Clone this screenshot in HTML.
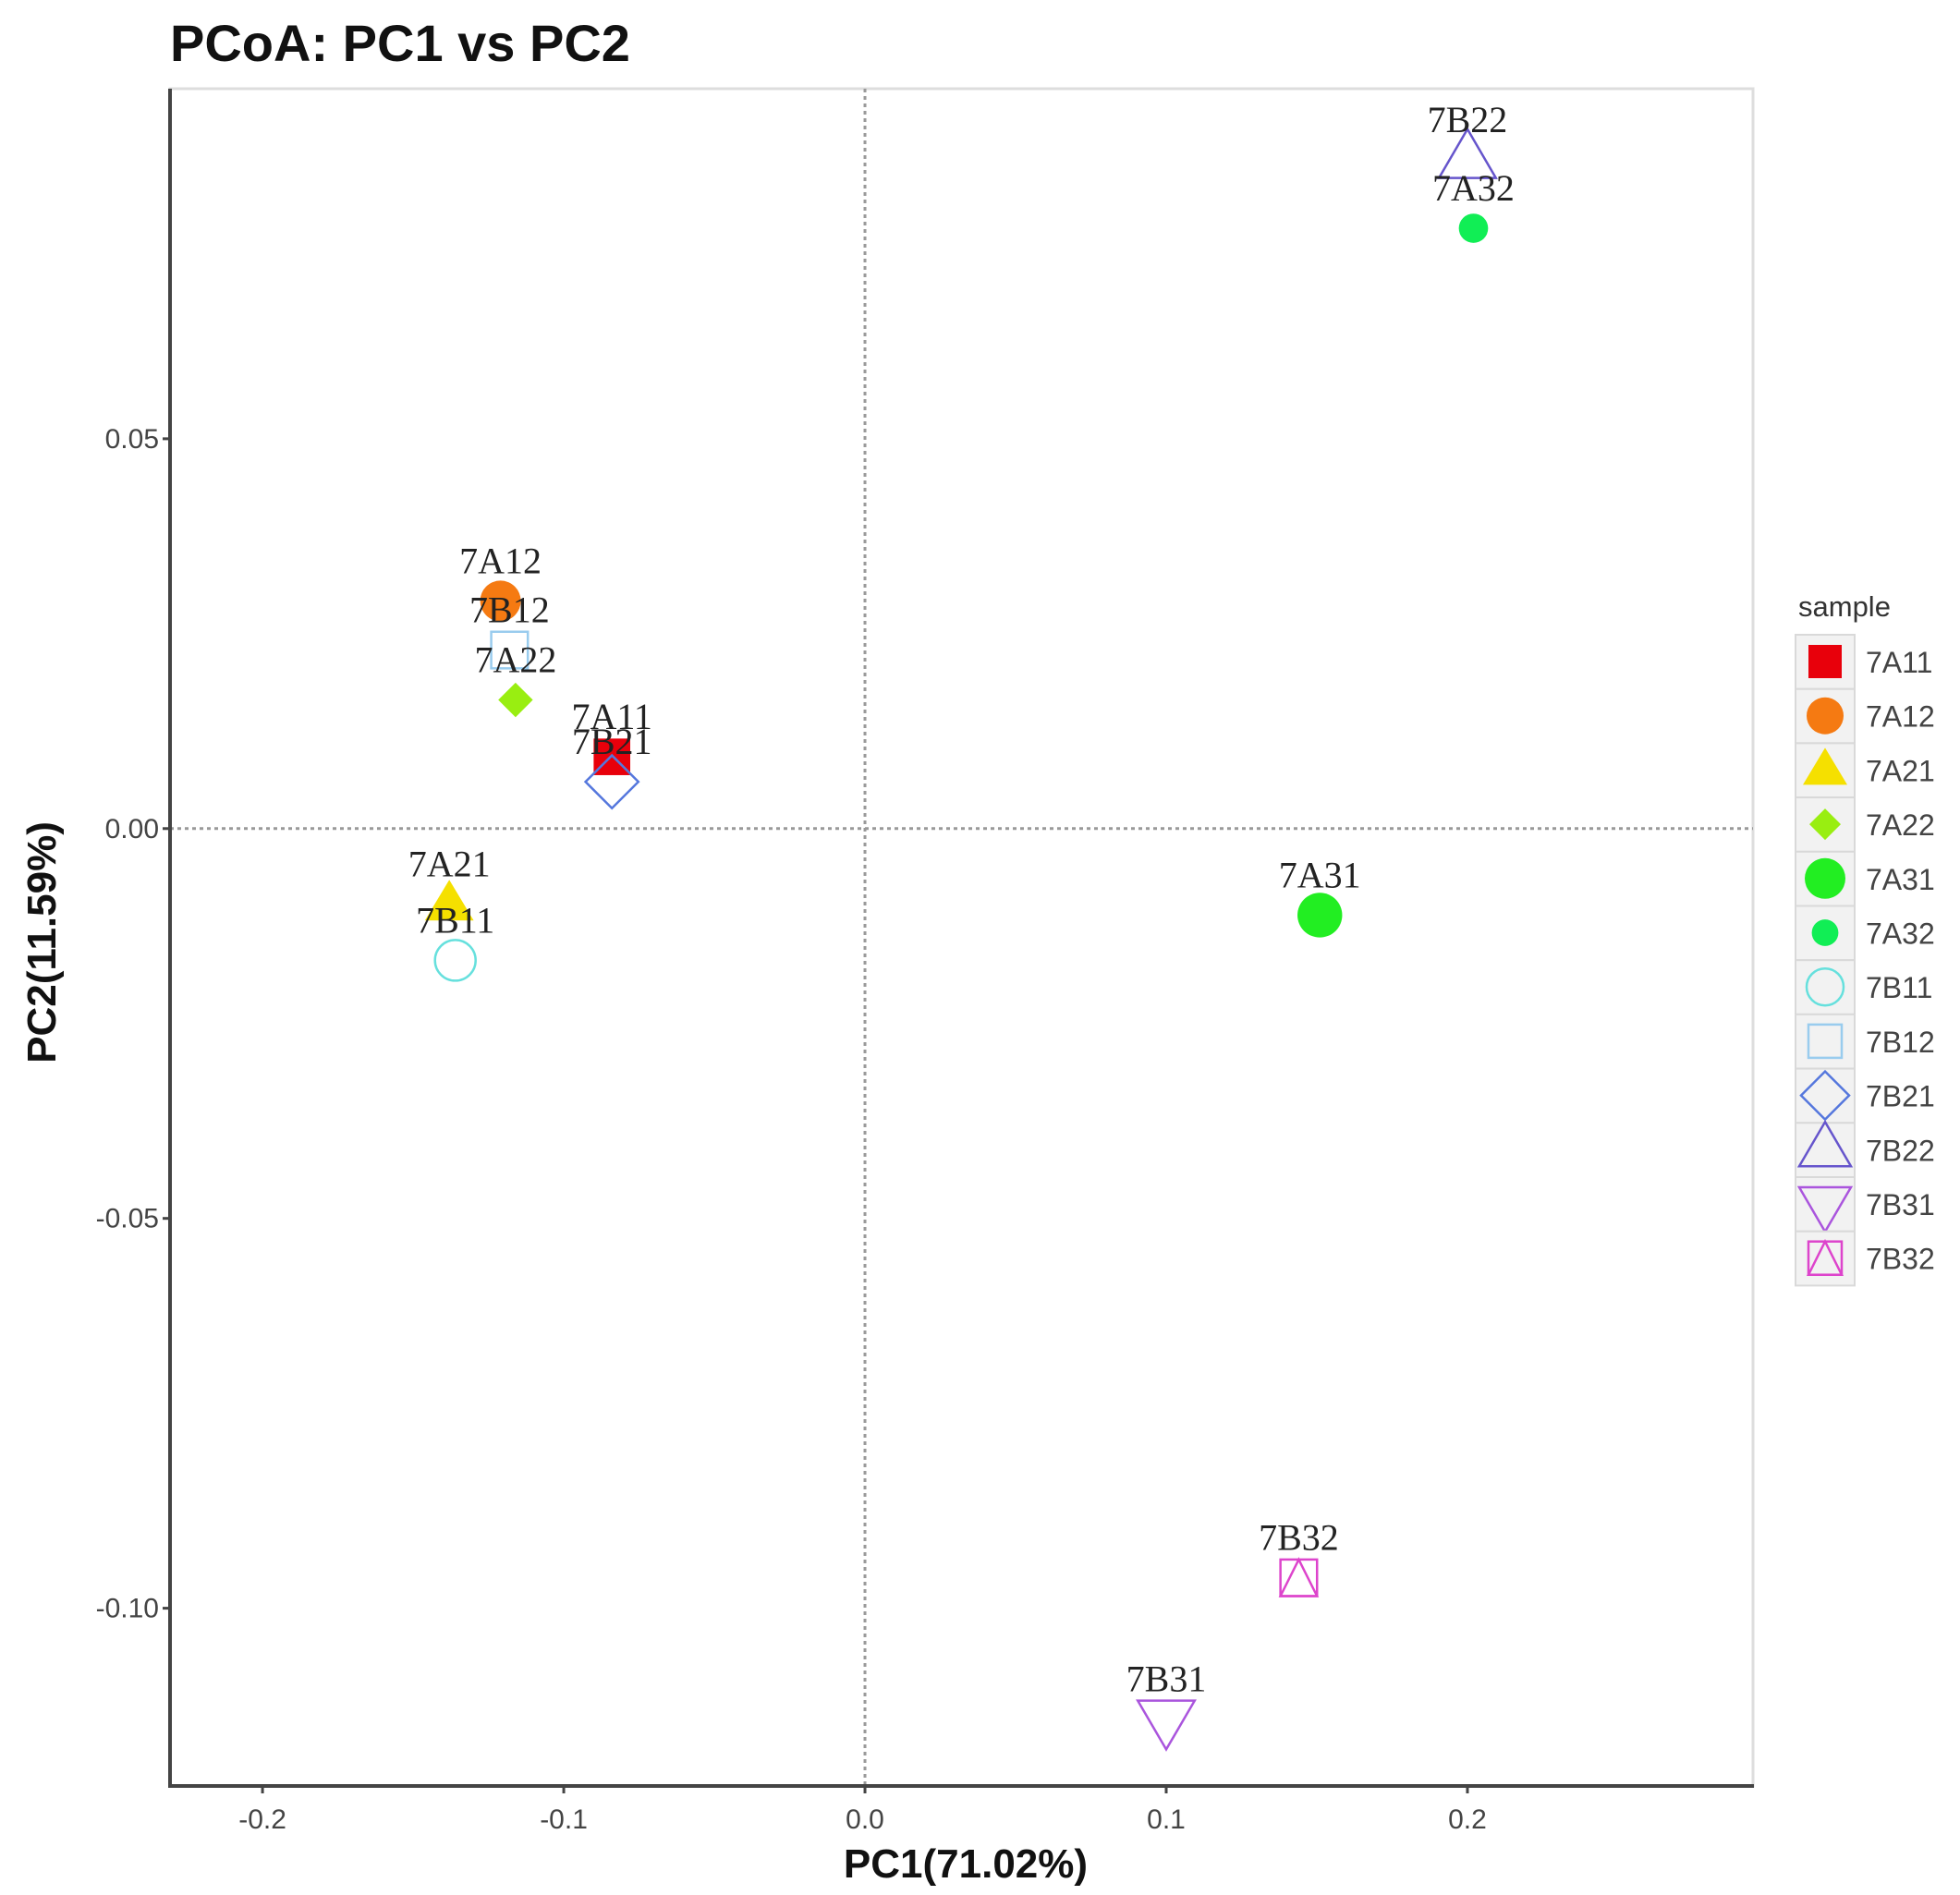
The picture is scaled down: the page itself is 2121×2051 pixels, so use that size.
<!DOCTYPE html>
<html><head><meta charset="utf-8"><style>
html,body{margin:0;padding:0;background:#fff;}
svg{display:block;}
</style></head><body>
<svg id="chart" width="2121" height="2051" xmlns="http://www.w3.org/2000/svg">
<text x="184" y="66" font-family="Liberation Sans, sans-serif" font-weight="bold" font-size="56" fill="#111">PCoA: PC1 vs PC2</text>
<rect x="184" y="96" width="1713" height="1837" fill="#fff" stroke="#ddd" stroke-width="3"/>
<g id="grid"></g>
<g id="marks"></g>
<line x1="184" y1="96" x2="184" y2="1934" stroke="#444" stroke-width="4"/>
<line x1="182" y1="1933" x2="1898" y2="1933" stroke="#444" stroke-width="4"/>
<g id="axes"></g>
<text x="1045" y="2032" text-anchor="middle" font-family="Liberation Sans, sans-serif" font-weight="bold" font-size="44" fill="#111">PC1(71.02%)</text>
<text transform="translate(60,1020) rotate(-90)" text-anchor="middle" font-family="Liberation Sans, sans-serif" font-weight="bold" font-size="44" fill="#111">PC2(11.59%)</text>
<g id="legend"></g>
</svg>
<script>
const samples = ['7A11','7A12','7A21','7A22','7A31','7A32','7B11','7B12','7B21','7B22','7B31','7B32'];
const pc1 = [-0.084,-0.121,-0.138,-0.116,0.151,0.202,-0.136,-0.118,-0.084,0.200,0.100,0.144];
const pc2 = [0.0092,0.0292,-0.0097,0.0165,-0.0111,0.0770,-0.0169,0.0229,0.0060,0.0858,-0.1142,-0.0961];
const xTicks = [-0.2,-0.1,0.0,0.1,0.2];
const xTickLabels = ['-0.2','-0.1','0.0','0.1','0.2'];
const yTicks = [0.05,0.0,-0.05,-0.10];
const yTickLabels = ['0.05','0.00','-0.05','-0.10'];

const colors = ['#e8000b','#f57a12','#f5e000','#99ee11','#22ee22','#11ee55','#66e0dd','#99ccee','#5577dd','#6655cc','#aa55dd','#dd44cc'];
const shapes = ['sq','circ','tri','dia','bigcirc','smallcirc','ocirc','osq','odia','otri','oinvtri','osqtri'];

const NS='http://www.w3.org/2000/svg';
const X0=184,X1=1897,Y0=96,Y1=1933;
const xMin=-0.2307,xMax=0.2948,yMin=-0.1228,yMax=0.0949;
function sx(v){return X0+(v-xMin)/(xMax-xMin)*(X1-X0);}
function sy(v){return Y1-(v-yMin)/(yMax-yMin)*(Y1-Y0);}
function el(tag,attrs,parent){const e=document.createElementNS(NS,tag);for(const k in attrs)e.setAttribute(k,attrs[k]);parent.appendChild(e);return e;}

const grid=document.getElementById('grid');
let g1=el('line',{x1:sx(0),y1:Y0,x2:sx(0),y2:Y1,stroke:'#999','stroke-width':3,'stroke-dasharray':'4 4'},grid);


let g2=el('line',{x1:X0,y1:sy(0),x2:X1,y2:sy(0),stroke:'#999','stroke-width':3,'stroke-dasharray':'4 4'},grid);



const axes=document.getElementById('axes');
xTicks.forEach((t,i)=>{
  const x=sx(t);
  const tk=el('line',{x1:x,y1:Y1,x2:x,y2:Y1+8,stroke:'#444','stroke-width':3},axes);
  
  
  const tx=el('text',{x:x,y:Y1+46,'text-anchor':'middle','font-family':'Liberation Sans, sans-serif','font-size':30,fill:'#444'},axes);
  tx.textContent=xTickLabels[i];
  
  
});
yTicks.forEach((t,i)=>{
  const y=sy(t);
  const tk=el('line',{x1:X0-8,y1:y,x2:X0,y2:y,stroke:'#444','stroke-width':3},axes);
  
  
  const tx=el('text',{x:X0-12,y:y+10,'text-anchor':'end','font-family':'Liberation Sans, sans-serif','font-size':30,fill:'#444'},axes);
  tx.textContent=yTickLabels[i];
  
  
});

function drawShape(shape,c,x,y,s,parent){
  const g=el('g',{},parent);
  const sw=2.5;
  if(shape==='sq') el('rect',{x:x-s*0.9,y:y-s*0.9,width:s*1.8,height:s*1.8,fill:c},g);
  else if(shape==='circ') el('circle',{cx:x,cy:y,r:s,fill:c},g);
  else if(shape==='bigcirc') el('circle',{cx:x,cy:y,r:s*1.1,fill:c},g);
  else if(shape==='smallcirc') el('circle',{cx:x,cy:y,r:s*0.72,fill:c},g);
  else if(shape==='tri') el('polygon',{points:`${x},${y-s*1.2} ${x+s*1.2},${y+s*0.8} ${x-s*1.2},${y+s*0.8}`,fill:c},g);
  else if(shape==='dia') el('polygon',{points:`${x},${y-s*0.85} ${x+s*0.85},${y} ${x},${y+s*0.85} ${x-s*0.85},${y}`,fill:c},g);
  else if(shape==='ocirc') el('circle',{cx:x,cy:y,r:s,fill:'none',stroke:c,'stroke-width':sw},g);
  else if(shape==='osq') el('rect',{x:x-s*0.9,y:y-s*0.9,width:s*1.8,height:s*1.8,fill:'none',stroke:c,'stroke-width':sw},g);
  else if(shape==='odia') el('polygon',{points:`${x},${y-s*1.3} ${x+s*1.3},${y} ${x},${y+s*1.3} ${x-s*1.3},${y}`,fill:'none',stroke:c,'stroke-width':sw},g);
  else if(shape==='otri') el('polygon',{points:`${x},${y-s*1.5} ${x+s*1.4},${y+s*0.9} ${x-s*1.4},${y+s*0.9}`,fill:'none',stroke:c,'stroke-width':sw},g);
  else if(shape==='oinvtri') el('polygon',{points:`${x},${y+s*1.5} ${x+s*1.4},${y-s*0.9} ${x-s*1.4},${y-s*0.9}`,fill:'none',stroke:c,'stroke-width':sw},g);
  else if(shape==='osqtri'){el('rect',{x:x-s*0.9,y:y-s*0.9,width:s*1.8,height:s*1.8,fill:'none',stroke:c,'stroke-width':sw},g);
    el('polygon',{points:`${x},${y-s*0.9} ${x+s*0.9},${y+s*0.9} ${x-s*0.9},${y+s*0.9}`,fill:'none',stroke:c,'stroke-width':sw},g);}
  return g;
}

const marks=document.getElementById('marks');
samples.forEach((n,i)=>{
  const x=sx(pc1[i]),y=sy(pc2[i]);
  const g=drawShape(shapes[i],colors[i],x,y,22,marks);
  
  
});
samples.forEach((n,i)=>{
  const x=sx(pc1[i]),y=sy(pc2[i]);
  const t=el('text',{x:x,y:y-30,'text-anchor':'middle','font-family':'Liberation Serif, serif','font-size':40,fill:'#222'},marks);
  t.textContent=n;
  
  
});

const legend=document.getElementById('legend');
const lt=el('text',{x:1946,y:667,'font-family':'Liberation Sans, sans-serif','font-size':31,fill:'#333'},legend);
lt.textContent='sample';


samples.forEach((n,i)=>{
  const top=687+i*58.7;
  const g=el('g',{},legend);
  
  
  el('rect',{x:1943,y:top,width:64,height:58.7,fill:'#f2f2f2',stroke:'#d9d9d9','stroke-width':2},g);
  drawShape(shapes[i],colors[i],1975,top+29,20,g);
  const t=el('text',{x:2019,y:top+41,'font-family':'Liberation Sans, sans-serif','font-size':32,fill:'#444'},g);
  t.textContent=n;
});
</script>
</body></html>
